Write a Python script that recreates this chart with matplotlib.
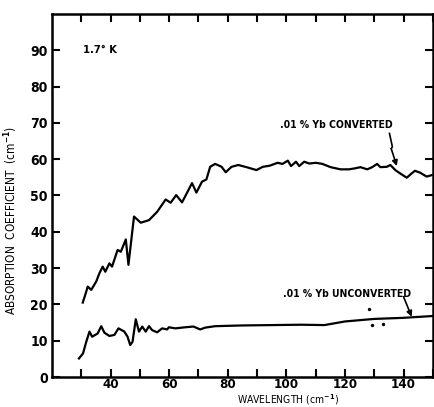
import matplotlib
matplotlib.use("Agg")
import matplotlib.pyplot as plt
from matplotlib import font_manager
from matplotlib.ticker import FixedLocator, FuncFormatter

# narrow bold lettering like the original typewriter labels, if a narrow face exists
have = {(f.name, f.stretch) for f in font_manager.fontManager.ttflist}
names = {n for n, s in have}

fams = []
if 'Liberation Sans Narrow' in names:
    fams.append('Liberation Sans Narrow')
fams.append('DejaVu Sans')
plt.rcParams['font.family'] = fams
plt.rcParams['font.weight'] = 'bold'
if not ('Liberation Sans Narrow' in names) and any(s == 'condensed' for n, s in have if n == 'DejaVu Sans'):
    plt.rcParams['font.stretch'] = 'condensed'
plt.rcParams['mathtext.fontset'] = 'custom'
plt.rcParams['mathtext.rm'] = fams[0] + ':bold'

# .01 % Yb converted
conv_x = [30.5, 31.5, 32.2, 33.4, 35.1, 36.2, 37.3, 38.2, 39.6, 40.5, 42.4, 43.5,
          45.2, 46.1, 48.0, 50.3, 53.1, 55.9, 58.8, 60.5, 62.4, 64.4, 67.8, 69.3,
          71.2, 72.7, 74.0, 75.7, 77.9, 79.3, 81.3, 83.6, 86.4, 89.8, 92.0, 94.3,
          97.0, 98.7, 100.5, 101.6, 103.3, 104.4, 106.1, 107.8, 110.1, 112.3,
          115.1, 118.5, 121.4, 123.6, 125.3, 127.6, 129.3, 131.0, 132.1, 134.3,
          135.5, 137.2, 138.8, 141.1, 142.8, 143.9, 145.6, 147.9, 149.6]
conv_y = [20.5, 23.0, 24.9, 24.0, 26.3, 28.6, 30.4, 29.0, 31.3, 30.4, 35.0, 34.5,
          37.9, 30.9, 44.2, 42.5, 43.2, 45.5, 48.9, 48.0, 50.1, 48.1, 53.4, 50.8,
          53.8, 54.4, 57.9, 58.7, 57.9, 56.4, 57.9, 58.4, 57.8, 57.0, 57.9, 58.2,
          59.0, 58.7, 59.6, 58.1, 59.3, 58.1, 59.3, 58.8, 59.0, 58.7,
          57.8, 57.2, 57.2, 57.5, 57.8, 57.2, 57.8, 58.7, 57.8, 57.9,
          58.4, 57.0, 56.1, 54.9, 56.1, 56.8, 56.3, 55.2, 55.6]

# .01 % Yb unconverted
unconv_x = [29.2, 30.6, 31.7, 32.8, 33.7, 35.6, 36.8, 37.9, 39.6, 41.3, 42.7, 44.7,
            45.8, 46.7, 47.5, 48.6, 49.7, 50.8, 52.0, 53.1, 54.2, 55.9, 57.6, 59.3,
            59.9, 62.1, 65.5, 68.3, 70.6, 72.3, 75.7, 85.0, 95.0, 105.0, 113.0,
            120.0, 130.0, 140.0, 150.0]
unconv_y = [5.1, 6.5, 9.7, 12.5, 11.1, 12.0, 14.0, 12.2, 11.3, 11.6, 13.4, 12.5,
            11.1, 8.8, 9.7, 15.9, 12.5, 13.9, 12.5, 14.0, 12.9, 12.3, 13.4, 13.1,
            13.7, 13.4, 13.7, 13.9, 13.1, 13.6, 14.0, 14.2, 14.3, 14.4, 14.3,
            15.3, 16.0, 16.3, 16.8]

# stray specks on the original plate
speck_x = [128.3, 129.2, 133.0]
speck_y = [18.8, 14.4, 14.6]

# hand-drawn zigzag pointer to the converted curve
conv_arrow_x = [135.2, 136.2, 135.8, 137.7]
conv_arrow_y = [67.1, 63.4, 62.9, 58.1]

x_ticks = list(range(30, 151, 10))
x_labels = [40, 60, 80, 100, 120, 140]
y_ticks = list(range(0, 91, 10))

fig = plt.figure(figsize=(4.35, 4.07), dpi=100)
ax = fig.add_axes([0.1195, 0.0737, 0.8755, 0.892])

ax.plot(conv_x, conv_y, color='black', linewidth=1.6)
ax.plot(unconv_x, unconv_y, color='black', linewidth=1.6)
ax.scatter(speck_x, speck_y, s=2, color='black')

ax.set_xlim(20, 150)
ax.set_ylim(0, 100)

ax.xaxis.set_major_locator(FixedLocator(x_ticks))
ax.xaxis.set_major_formatter(FuncFormatter(lambda v, p: str(int(v)) if int(v) in x_labels else ''))
ax.yaxis.set_major_locator(FixedLocator(y_ticks))
ax.tick_params(direction='in', length=6, width=1.5, top=True, right=True,
               labelsize=10)
ax.tick_params(axis='x', pad=1, labelsize=9.5)
ax.tick_params(axis='y', pad=3)
for s in ax.spines.values():
    s.set_linewidth(1.8)

ax.set_xlabel('WAVELENGTH (cm$^{-1}$)', fontsize=7.5)
ax.xaxis.set_label_coords(0.62, -0.043)
ax.set_ylabel('ABSORPTION  COEFFICIENT  (cm$^{-1}$)', fontsize=8.5)
ax.yaxis.set_label_coords(-0.085, 0.43)

ax.text(36.5, 90, '1.7° K', fontsize=8, ha='center', va='center')
ax.text(98, 69.4, '.01 % Yb CONVERTED', fontsize=7.5, ha='left', va='center')
ax.plot(conv_arrow_x[:-1], conv_arrow_y[:-1], color='black', lw=1.2)
ax.annotate('', xy=(conv_arrow_x[-1], conv_arrow_y[-1]),
            xytext=(conv_arrow_x[-2], conv_arrow_y[-2]),
            arrowprops=dict(arrowstyle='-|>', color='black', lw=1.2,
                            mutation_scale=8, shrinkA=0, shrinkB=0))
ax.text(98.8, 22.9, '.01 % Yb UNCONVERTED', fontsize=7.5, ha='left', va='center')
ax.annotate('', xy=(142.8, 16.6), xytext=(140.0, 22.1),
            arrowprops=dict(arrowstyle='-|>', color='black', lw=1.2,
                            mutation_scale=8, shrinkA=0, shrinkB=0))

fig.savefig('out.png', dpi=100)
